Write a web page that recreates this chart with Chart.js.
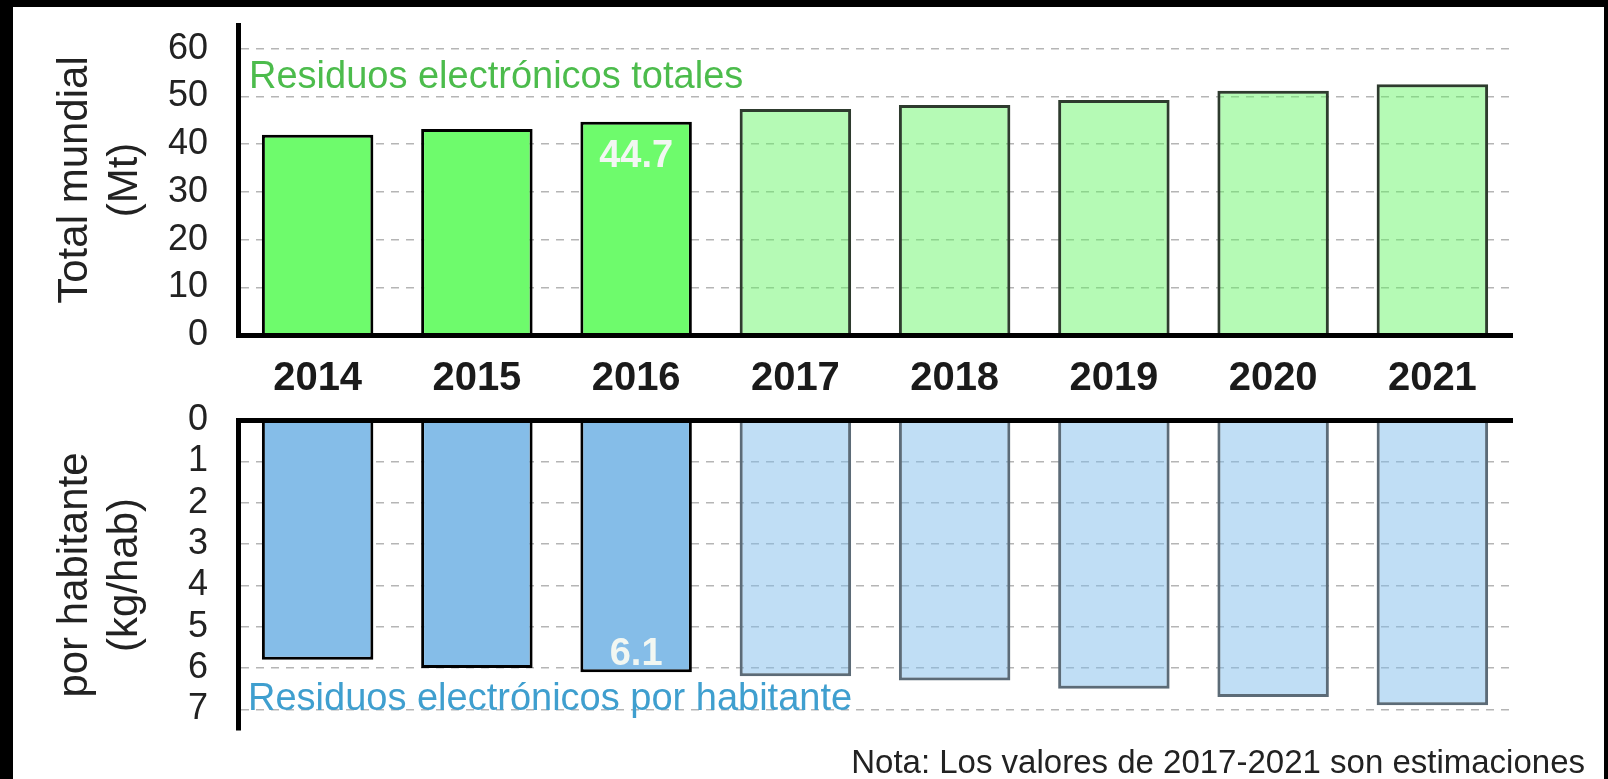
<!DOCTYPE html>
<html>
<head>
<meta charset="utf-8">
<script src="https://cdn.jsdelivr.net/npm/chart.js@4.4.1/dist/chart.umd.min.js"></script>
<style>
  html, body { margin: 0; padding: 0; background: #000; width: 1608px; height: 779px; overflow: hidden; }
  body { position: relative; font-family: "Liberation Sans", Arial, sans-serif; }
  #panel { position: absolute; left: 13px; top: 7px; width: 1591px; height: 772px; background: #fff; }
  .box { position: absolute; left: 0; width: 1608px; }
  #topBox { top: 0; height: 395px; }
  #botBox { top: 395px; height: 360px; }
  .lbl { position: absolute; white-space: nowrap; line-height: 1; }
  #lblTotal { left: 249px; top: 56px; font-size: 38px; color: #4cbc4c; }
  #lblCapita { left: 248px; top: 678px; font-size: 38px; color: #3f9fcf; }
  #nota { right: 23px; top: 745px; font-size: 33px; color: #222; }
</style>
</head>
<body>
<div id="panel"></div>
<div class="box" id="topBox"><canvas id="totalChart"></canvas></div>
<div class="box" id="botBox"><canvas id="capitaChart"></canvas></div>
<div class="lbl" id="lblTotal">Residuos electrónicos totales</div>
<div class="lbl" id="lblCapita">Residuos electrónicos por habitante</div>
<div class="lbl" id="nota">Nota: Los valores de 2017-2021 son estimaciones</div>
<script>
// data
const years        = ['2014', '2015', '2016', '2017', '2018', '2019', '2020', '2021'];
const totalMt      = [42.0, 43.2, 44.7, 47.4, 48.2, 49.3, 51.2, 52.6];
const perCapitaKg  = [5.8, 6.0, 6.1, 6.2, 6.3, 6.5, 6.7, 6.9];
const totalTicks   = [0, 10, 20, 30, 40, 50, 60];
const capitaTicks  = [0, 1, 2, 3, 4, 5, 6, 7];
const estimatedFrom = '2017';
const labelledYear  = '2016';

const FONT = '"Liberation Sans", Arial, sans-serif';
const firstEst = years.indexOf(estimatedFrom);
const isEst = i => i >= firstEst;

// value label inside the labelled bar
const valueLabel = {
  id: 'valueLabel',
  afterDatasetsDraw(chart, args, opts) {
    const i = years.indexOf(labelledYear);
    const bar = chart.getDatasetMeta(0).data[i];
    const v = chart.data.datasets[0].data[i];
    const ctx = chart.ctx;
    ctx.save();
    ctx.font = `bold 38px ${FONT}`;
    ctx.fillStyle = '#f2f7f2';
    ctx.textAlign = 'center';
    ctx.textBaseline = 'middle';
    ctx.fillText(v.toFixed(1), bar.x, bar.y + opts.offset);
    ctx.restore();
  }
};

function yScale(ticks, min, max, title, reverse) {
  return {
    min, max, reverse,
    afterBuildTicks: s => { s.ticks = ticks.map(v => ({ value: v })); },
    afterFit: s => { s.width = 238; },
    // tick marks are invisible, they only push the labels away from the axis
    grid: { color: '#b5b5b5', lineWidth: 1.5, drawTicks: true, tickLength: 30, tickColor: 'rgba(0,0,0,0)' },
    border: { display: true, color: '#000', width: 5, dash: [8, 7], z: 1 },
    ticks: { font: { size: 36, family: FONT }, color: '#222', padding: 0, autoSkip: false },
    title: { display: true, text: title, color: '#222', font: { size: 42, family: FONT, lineHeight: 1.2 }, padding: { top: 50, bottom: 0 } }
  };
}

const common = {
  responsive: true, maintainAspectRatio: false, animation: false,
  plugins: { legend: { display: false }, tooltip: { enabled: false } }
};

new Chart(document.getElementById('totalChart'), {
  type: 'bar',
  data: {
    labels: years,
    datasets: [{
      data: totalMt,
      backgroundColor: years.map((y, i) => isEst(i) ? 'rgba(100,245,100,0.48)' : '#6efb6c'),
      borderColor: years.map((y, i) => isEst(i) ? '#2e3b2e' : '#000'),
      borderWidth: 3, barPercentage: 0.7, categoryPercentage: 1
    }]
  },
  plugins: [valueLabel],
  options: {
    ...common,
    layout: { padding: { left: 0, right: 96, top: 25, bottom: 0 } },
    plugins: { ...common.plugins, valueLabel: { offset: 35 } },
    scales: {
      x: {
        afterFit: s => { s.height = 60; },
        grid: { display: false, drawTicks: false },
        border: { display: true, color: '#000', width: 5, z: 1 },
        ticks: { font: { size: 40, weight: 'bold', family: FONT }, color: '#1a1a1a', padding: 20 }
      },
      y: yScale(totalTicks, 0, 65, ['Total mundial', '(Mt)'], false)
    }
  }
});

new Chart(document.getElementById('capitaChart'), {
  type: 'bar',
  data: {
    labels: years,
    datasets: [{
      data: perCapitaKg,
      backgroundColor: years.map((y, i) => isEst(i) ? 'rgba(130,190,235,0.5)' : '#85bde8'),
      borderColor: years.map((y, i) => isEst(i) ? '#5c6b77' : '#000'),
      borderWidth: 3, barPercentage: 0.7, categoryPercentage: 1
    }]
  },
  plugins: [valueLabel],
  options: {
    ...common,
    layout: { padding: { left: 0, right: 96, top: 25, bottom: 25 } },
    plugins: { ...common.plugins, valueLabel: { offset: -18 } },
    scales: {
      x: {
        position: 'top',
        afterFit: s => { s.height = 0; },
        grid: { display: false, drawTicks: false },
        border: { display: true, color: '#000', width: 5, z: 1 },
        ticks: { display: false }
      },
      y: yScale(capitaTicks, 0, 7.5, ['por habitante', '(kg/hab)'], true)
    }
  }
});
</script>
</body>
</html>
